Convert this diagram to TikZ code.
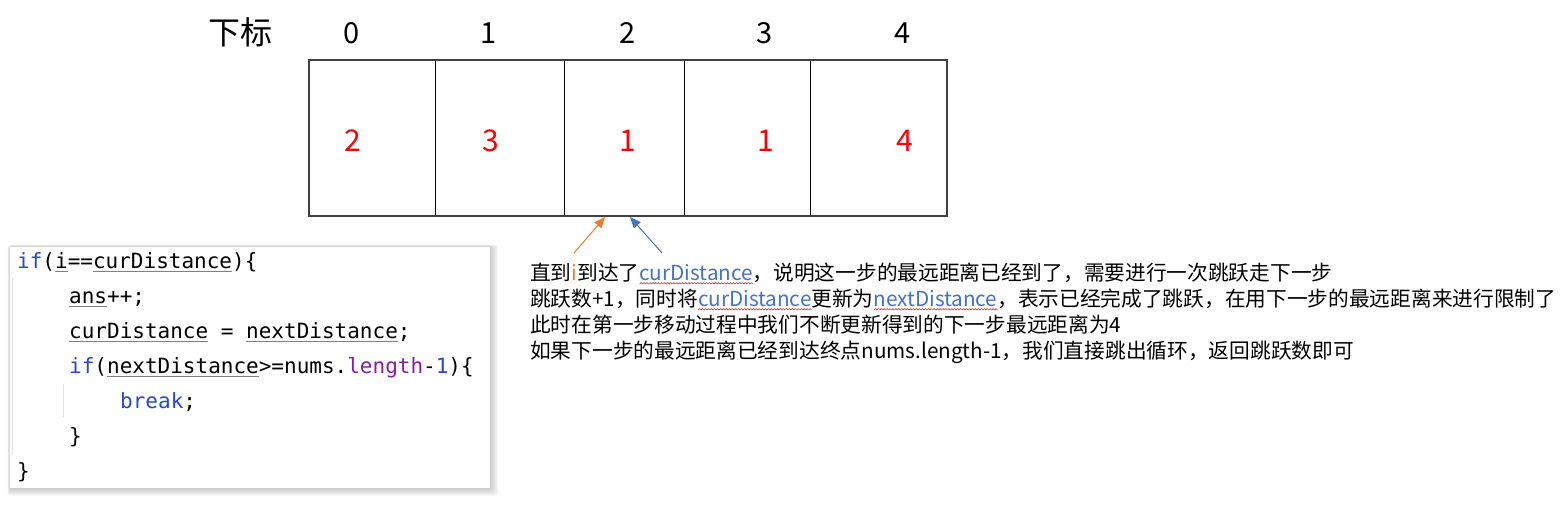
\documentclass[tikz,border=0pt]{standalone}
\usepackage{fontspec}
\usetikzlibrary{arrows.meta}
\newfontfamily\cjk{Noto Sans CJK SC}
\setmonofont{DejaVu Sans Mono}
\definecolor{tblue}{HTML}{4472C4}
\definecolor{torange}{HTML}{ED7D31}
\definecolor{kwblue}{HTML}{2A48C8}
\definecolor{kwpurple}{HTML}{8E1BA8}
\definecolor{cellline}{HTML}{404040}
\newcommand\gul[1]{\setbox0\hbox{#1}\rlap{\textcolor{gray}{\rule[-0.17em]{\wd0}{0.9pt}}}\box0\relax}
\newcommand\wavepiece{\hbox{\textcolor{red}{\rotatebox{45}{\rule{2pt}{0.5pt}}\kern-0.3pt\raisebox{1.41pt}{\rotatebox{-45}{\rule{2pt}{0.5pt}}}\kern-0.3pt}}}
\newcommand\rwave[1]{\setbox0\hbox{#1}\rlap{\lower4.2pt\hbox to\wd0{\xleaders\wavepiece\hfill}}\box0\relax}
\tikzset{
  idx/.style={anchor=base, inner sep=0pt, font=\cjk\fontsize{29}{34}\selectfont},
  val/.style={anchor=base, inner sep=0pt, text=red, font=\cjk\fontsize{30}{36}\selectfont},
  codeline/.style={anchor=base west, inner sep=0pt, font=\ttfamily\fontsize{21}{25}\selectfont},
  note/.style={anchor=base west, inner sep=0pt, font=\cjk\fontsize{20.7}{26}\selectfont},
  ptr/.style={line width=1pt, -{Triangle[length=11pt,width=9pt]}},
}
\begin{document}
\begin{tikzpicture}[x=1pt,y=-1pt]
\useasboundingbox (0,0) rectangle (1568,504);
% index row
\node[idx, font=\cjk\fontsize{32}{36}\selectfont] (lbl) at (240,44) {下标};
\node[idx] (i0) at (352,43.5) {0};
\node[idx] (i1) at (489,43.5) {1};
\node[idx] (i2) at (628,43.5) {2};
\node[idx] (i3) at (765,43.5) {3};
\node[idx] (i4) at (903,43.5) {4};
% cells
\draw[black, line width=1pt] (435,60) -- (435,216) (564,60) -- (564,216) (684,60) -- (684,216) (810,60) -- (810,216);
\draw[cellline, line width=2pt] (309,60) rectangle (947,216);
\node[val] (v0) at (353,151) {2};
\node[val] (v1) at (491,151) {3};
\node[val] (v2) at (628,151) {1};
\node[val] (v3) at (766,151) {1};
\node[val] (v4) at (905,151) {4};
% pointers
\coordinate (otail) at (574,253);
\coordinate (ohead) at (605,217);
\coordinate (btail) at (662,253);
\coordinate (bhead) at (630,217);
\draw[ptr, torange] (otail) -- (ohead);
\draw[ptr, tblue] (btail) -- (bhead);
% explanation
\node[note] (n1) at (530,280) {直到{\color{torange}i}到达了{\color{tblue}\rwave{curDistance}}，说明这一步的最远距离已经到了，需要进行一次跳跃走下一步};
\node[note] (n2) at (530,306) {跳跃数+1，同时将{\color{tblue}\rwave{curDistance}}更新为{\color{tblue}\rwave{nextDistance}}，表示已经完成了跳跃，在用下一步的最远距离来进行限制了};
\node[note] (n3) at (530,332) {此时在第一步移动过程中我们不断更新得到的下一步最远距离为4};
\node[note] (n4) at (530,358) {如果下一步的最远距离已经到达终点nums.length-1，我们直接跳出循环，返回跳跃数即可};
% code box with shadow
\foreach \i in {1,...,8}
  \fill[black, opacity=0.028, rounded corners=3pt] (10-0.3*\i,247-0.3*\i) rectangle (490+\i,488+\i);
\fill[white] (10,247) rectangle (490,488);
\draw[black!12, line width=1pt] (12.5,278) -- (12.5,455);
\draw[black!12, line width=1pt] (63.5,384) -- (63.5,417);
\node[codeline] (c1) at (17,268) {{\color{kwblue}if}(\gul{i}==\gul{curDistance})\{};
\node[codeline] (c2) at (69,303) {\gul{ans}++;};
\node[codeline] (c3) at (69,338) {\gul{curDistance} = \gul{nextDistance};};
\node[codeline] (c4) at (69,373) {{\color{kwblue}if}(\gul{nextDistance}>=nums.{\color{kwpurple}length}-{\color{kwblue}1})\{};
\node[codeline] (c5) at (120,408) {{\color{kwblue}break};};
\node[codeline] (c6) at (69,443) {\}};
\node[codeline] (c7) at (17,478) {\}};
\end{tikzpicture}
\end{document}
